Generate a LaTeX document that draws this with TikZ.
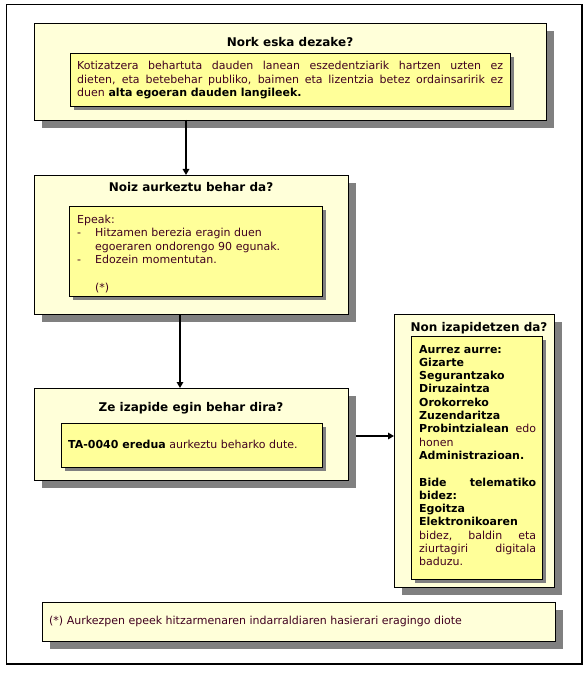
\documentclass[tikz,border=0pt]{standalone}
\usepackage{fontspec}
\setmainfont{DejaVu Sans}
\usetikzlibrary{shadows,arrows.meta}
\definecolor{outerfill}{RGB}{255,255,217}
\definecolor{innerfill}{RGB}{255,255,153}
\definecolor{txt}{RGB}{64,0,32}
\definecolor{shadowgray}{RGB}{128,128,128}
\newcommand{\jline}[2]{\leavevmode\hbox to #1{\spaceskip=0pt\xspaceskip=0pt\relax #2}}
\hbadness=10000
\begin{document}
\begin{tikzpicture}[x=1pt,y=-1pt,
  outerbox/.style={draw=black, line width=1.2pt, fill=outerfill, rectangle, anchor=north west, inner sep=0pt,
    drop shadow={shadow xshift=7pt, shadow yshift=-7pt, fill=shadowgray, opacity=1}},
  innerbox/.style={draw=black, line width=0.9pt, fill=innerfill, rectangle, anchor=north west, inner sep=0pt,
    drop shadow={shadow xshift=4pt, shadow yshift=-4pt, fill=shadowgray, opacity=1}},
  titletext/.style={font=\fontsize{12}{14}\selectfont\bfseries, text=black, inner sep=0pt, anchor=base},
  bodytext/.style={font=\fontsize{11}{13.6}\selectfont, text=txt, inner sep=0pt, anchor=base west, align=left},
  flow/.style={line width=1.8pt, -{Triangle[width=6.5pt,length=6pt]}}
]
\useasboundingbox (0,0) rectangle (587,679);
\draw[line width=1.2pt] (6.5,4.5) rectangle (582,664);

% Box 1
\node[outerbox, minimum width=512pt, minimum height=97pt] (who) at (34,23) {};
\node[titletext] (whoT) at (290,47) {Nork eska dezake?};
\node[innerbox, minimum width=440pt, minimum height=53pt] (whoI) at (70,53) {};
\node[bodytext, text width=426pt] (whoB) at (77,69.5) {%
\jline{426pt}{Kotizatzera behartuta dauden lanean eszedentziarik hartzen uzten ez}\\
\jline{426pt}{dieten, eta betebehar publiko, baimen eta lizentzia betez ordainsaririk ez}\\
duen \textcolor{black}{\bfseries alta egoeran dauden langileek.}};

% Box 2
\node[outerbox, minimum width=314pt, minimum height=139pt] (when) at (34,175) {};
\node[titletext] (whenT) at (191,191) {Noiz aurkeztu behar da?};
\node[innerbox, minimum width=253pt, minimum height=90pt] (whenI) at (69,206) {};
\node[bodytext, text width=240pt] (whenB) at (77,223) {%
Epeak:\\
\makebox[18pt][l]{-}Hitzamen berezia eragin duen\\
\hspace*{18pt}egoeraren ondorengo 90 egunak.\\
\makebox[18pt][l]{-}Edozein momentutan.\\
\mbox{}\\
\hspace*{18pt}(*)};

% Box 3
\node[outerbox, minimum width=314pt, minimum height=92pt] (how) at (34,388) {};
\node[titletext] (howT) at (191,411) {Ze izapide egin behar dira?};
\node[innerbox, minimum width=261pt, minimum height=44pt] (howI) at (61,423) {};
\node[bodytext] (howB) at (68,448.5) {\textcolor{black}{\bfseries TA-0040 eredua} aurkeztu beharko dute.};

% Box 4
\node[outerbox, minimum width=160pt, minimum height=273pt] (where) at (394,314) {};
\node[titletext] (whereT) at (479,331) {Non izapidetzen da?};
\node[innerbox, minimum width=131pt, minimum height=243pt] (whereI) at (411,336) {};
\node[bodytext, text width=117pt, font=\fontsize{11}{13.3}\selectfont] (whereB) at (419,353) {%
\textcolor{black}{\bfseries Aurrez aurre:}\\
\textcolor{black}{\bfseries Gizarte}\\
\textcolor{black}{\bfseries Segurantzako}\\
\textcolor{black}{\bfseries Diruzaintza}\\
\textcolor{black}{\bfseries Orokorreko}\\
\textcolor{black}{\bfseries Zuzendaritza}\\
\jline{117pt}{\textcolor{black}{\bfseries Probintzialean}\hfill edo}\\
honen\\
\textcolor{black}{\bfseries Administrazioan.}\\
\mbox{}\\
\jline{117pt}{\textcolor{black}{\bfseries Bide}\hfill\textcolor{black}{\bfseries telematiko}}\\
\textcolor{black}{\bfseries bidez:}\\
\textcolor{black}{\bfseries Egoitza}\\
\textcolor{black}{\bfseries Elektronikoaren}\\
\jline{117pt}{bidez,\hfill baldin\hfill eta}\\
\jline{117pt}{ziurtagiri\hfill digitala}\\
baduzu.};

% Footnote
\node[outerbox, minimum width=513pt, minimum height=39pt] (note) at (42,602) {};
\node[bodytext] (noteB) at (49,624.5) {(*) Aurkezpen epeek hitzarmenaren indarraldiaren hasierari eragingo diote};

% Connectors
\coordinate (a1s) at (186,120);
\draw[flow] (a1s) -- (a1s |- when.north);
\coordinate (a2s) at (180,314);
\draw[flow] (a2s) -- (a2s |- how.north);
\draw[flow] ([xshift=7pt]how.east |- 0,436) -- (where.west |- 0,436);
\end{tikzpicture}
\end{document}
